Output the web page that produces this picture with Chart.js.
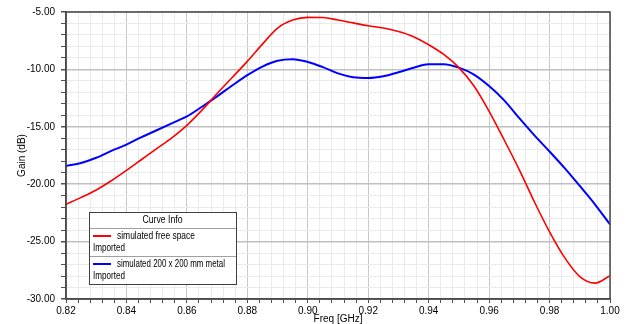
<!DOCTYPE html>
<html>
<head>
<meta charset="utf-8">
<script src="https://cdn.jsdelivr.net/npm/chart.js@4.4.1/dist/chart.umd.min.js"></script>
<style>
  html, body { margin: 0; padding: 0; background: #fff; }
  #wrap { width: 626px; height: 324px; }
</style>
</head>
<body>
<div id="wrap"><canvas id="grafico"></canvas></div>
<script>
// Freq [GHz] sample points
const freqGHz = [0.820, 0.825, 0.830, 0.835, 0.840, 0.845, 0.850, 0.855, 0.860, 0.865,
                 0.870, 0.875, 0.880, 0.885, 0.890, 0.895, 0.900, 0.905, 0.910, 0.915,
                 0.920, 0.925, 0.930, 0.935, 0.940, 0.945, 0.950, 0.955, 0.960, 0.965,
                 0.970, 0.975, 0.980, 0.985, 0.990, 0.995, 1.000];
// Gain (dB), simulated free space
const gainFreeSpace = [-21.75, -21.15, -20.50, -19.70, -18.80, -17.85, -16.90, -15.96, -14.87, -13.55,
                       -12.10, -10.70, -9.30, -7.80, -6.40, -5.70, -5.47, -5.48, -5.70, -5.95,
                       -6.20, -6.40, -6.70, -7.15, -7.85, -8.70, -9.85, -11.45, -13.65, -16.15,
                       -18.75, -21.55, -24.15, -26.40, -28.05, -28.62, -27.97];
// Gain (dB), simulated 200 x 200 mm metal
const gainMetal = [-18.41, -18.15, -17.70, -17.10, -16.55, -15.90, -15.30, -14.70, -14.10, -13.25,
                   -12.35, -11.40, -10.50, -9.75, -9.25, -9.12, -9.35, -9.80, -10.35, -10.68,
                   -10.75, -10.60, -10.25, -9.85, -9.55, -9.55, -9.85, -10.45, -11.45, -12.70,
                   -14.25, -15.75, -17.15, -18.60, -20.15, -21.75, -23.50];

const seriesNames = ['simulated free space', 'simulated 200 x 200 mm metal'];
const seriesSource = ['Imported', 'Imported'];
const seriesColors = ['#ff0000', '#0000ff'];

const xTickLabels = ['0.82', '0.84', '0.86', '0.88', '0.90', '0.92', '0.94', '0.96', '0.98', '1.00'];
const yTickLabels = ['-5.00', '-10.00', '-15.00', '-20.00', '-25.00', '-30.00'];

const fontFam = '"Liberation Sans", Arial, sans-serif';

function toPoints(xs, ys) {
    return xs.map((x, i) => ({ x: x, y: ys[i] }));
}

// minor/major tick lists for the grid
function xGridTicks(scale) {
    const ticks = [];
    for (let i = 0; i <= 45; i++) {
        const v = Math.round((0.82 + i * 0.004) * 1000) / 1000;
        ticks.push({ value: v, major: i % 5 === 0 });
    }
    scale.ticks = ticks;
}

function yGridTicks(scale) {
    const ticks = [];
    for (let v = -30; v <= -5; v++) {
        ticks.push({ value: v, major: v % 5 === 0 });
    }
    scale.ticks = ticks;
}

function xLabel(value, index, ticks) {
    if (!ticks[index].major) return '';
    const s = Number(value).toFixed(2);
    return xTickLabels.includes(s) ? s : '';
}

function yLabel(value, index, ticks) {
    if (!ticks[index].major) return '';
    const s = Number(value).toFixed(2);
    return yTickLabels.includes(s) ? s : '';
}

const frame = {
    id: 'frame',
    afterDatasetsDraw(chart) {
        const a = chart.chartArea;
        const ctx = chart.ctx;
        ctx.save();
        ctx.strokeStyle = '#4a4a4a';
        ctx.lineWidth = 1.5;
        ctx.strokeRect(a.left, a.top, a.right - a.left, a.bottom - a.top);
        ctx.restore();
    }
};

const curveInfo = {
    id: 'curveInfo',
    afterDraw(chart) {
        const a = chart.chartArea;
        const ctx = chart.ctx;
        const x = a.left + 23, w = 147;
        const headH = 16, rowH = 28;
        const h = headH + rowH * seriesNames.length;
        const y = a.bottom - 15 - h;
        ctx.save();
        ctx.fillStyle = '#ffffff';
        ctx.fillRect(x, y, w, h);
        ctx.strokeStyle = '#a0a0a0';
        ctx.lineWidth = 1;
        for (let i = 0; i < seriesNames.length; i++) {
            const ly = Math.round(y + headH + rowH * i) + 0.5;
            ctx.beginPath();
            ctx.moveTo(x, ly);
            ctx.lineTo(x + w, ly);
            ctx.stroke();
        }
        ctx.strokeStyle = '#404040';
        ctx.strokeRect(x + 0.5, y + 0.5, w, h);

        ctx.fillStyle = '#000';
        ctx.font = '10px ' + fontFam;
        ctx.textBaseline = 'middle';
        ctx.textAlign = 'center';
        ctx.fillText('Curve Info', x + w / 2, y + headH / 2 + 0.5, 40);
        ctx.textAlign = 'left';
        seriesNames.forEach((name, i) => {
            const ry = y + headH + rowH * i;
            ctx.strokeStyle = seriesColors[i];
            ctx.lineWidth = 2;
            ctx.beginPath();
            ctx.moveTo(x + 4, ry + 8);
            ctx.lineTo(x + 22, ry + 8);
            ctx.stroke();
            ctx.fillText(name, x + 28, ry + 8, i === 0 ? 78 : 108);
            ctx.fillText(seriesSource[i], x + 4, ry + 20, 32);
        });
        ctx.restore();
    }
};

document.addEventListener('DOMContentLoaded', () => {
    const ctx = document.getElementById('grafico').getContext('2d');
    new Chart(ctx, {
        type: 'line',
        data: {
            datasets: [
                {
                    label: seriesNames[0],
                    data: toPoints(freqGHz, gainFreeSpace),
                    borderColor: seriesColors[0],
                    borderWidth: 1.6,
                    pointRadius: 0,
                    cubicInterpolationMode: 'monotone',
                    fill: false
                },
                {
                    label: seriesNames[1],
                    data: toPoints(freqGHz, gainMetal),
                    borderColor: seriesColors[1],
                    borderWidth: 2,
                    pointRadius: 0,
                    cubicInterpolationMode: 'monotone',
                    fill: false
                }
            ]
        },
        options: {
            responsive: true,
            maintainAspectRatio: false,
            animation: false,
            events: [],
            layout: { padding: { left: 0, top: 9, right: 16, bottom: 0 } },
            plugins: {
                legend: { display: false },
                tooltip: { enabled: false }
            },
            scales: {
                x: {
                    type: 'linear',
                    min: 0.82,
                    max: 1.00,
                    afterBuildTicks: xGridTicks,
                    afterFit: (s) => { s.height = 25; },
                    grid: {
                        color: (c) => (c.tick && c.tick.major) ? '#c8c8c8' : '#ebebeb',
                        lineWidth: 1,
                        tickColor: '#505050',
                        tickLength: 4
                    },
                    border: { color: '#4a4a4a', width: 1.5 },
                    ticks: {
                        autoSkip: false,
                        maxRotation: 0,
                        minRotation: 0,
                        padding: 2,
                        color: '#000',
                        font: { family: fontFam, size: 10 },
                        callback: xLabel
                    },
                    title: {
                        display: true,
                        text: 'Freq [GHz]',
                        color: '#000',
                        font: { family: fontFam, size: 10 },
                        padding: { top: 0, bottom: -1 }
                    }
                },
                y: {
                    type: 'linear',
                    min: -30,
                    max: -5,
                    afterBuildTicks: yGridTicks,
                    afterFit: (s) => { s.width = 66; },
                    grid: {
                        color: (c) => (c.tick && c.tick.major) ? '#c0c0c0' : '#ebebeb',
                        lineWidth: (c) => (c.tick && c.tick.major) ? 1.5 : 1,
                        tickColor: '#505050',
                        tickLength: 5
                    },
                    border: { color: '#4a4a4a', width: 1.5 },
                    ticks: {
                        autoSkip: false,
                        padding: 6,
                        color: '#000',
                        font: { family: fontFam, size: 10 },
                        callback: yLabel
                    },
                    title: {
                        display: true,
                        text: 'Gain (dB)',
                        color: '#000',
                        font: { family: fontFam, size: 10 },
                        padding: { top: 16, bottom: 0 }
                    }
                }
            }
        },
        plugins: [frame, curveInfo]
    });
});
</script>
</body>
</html>
